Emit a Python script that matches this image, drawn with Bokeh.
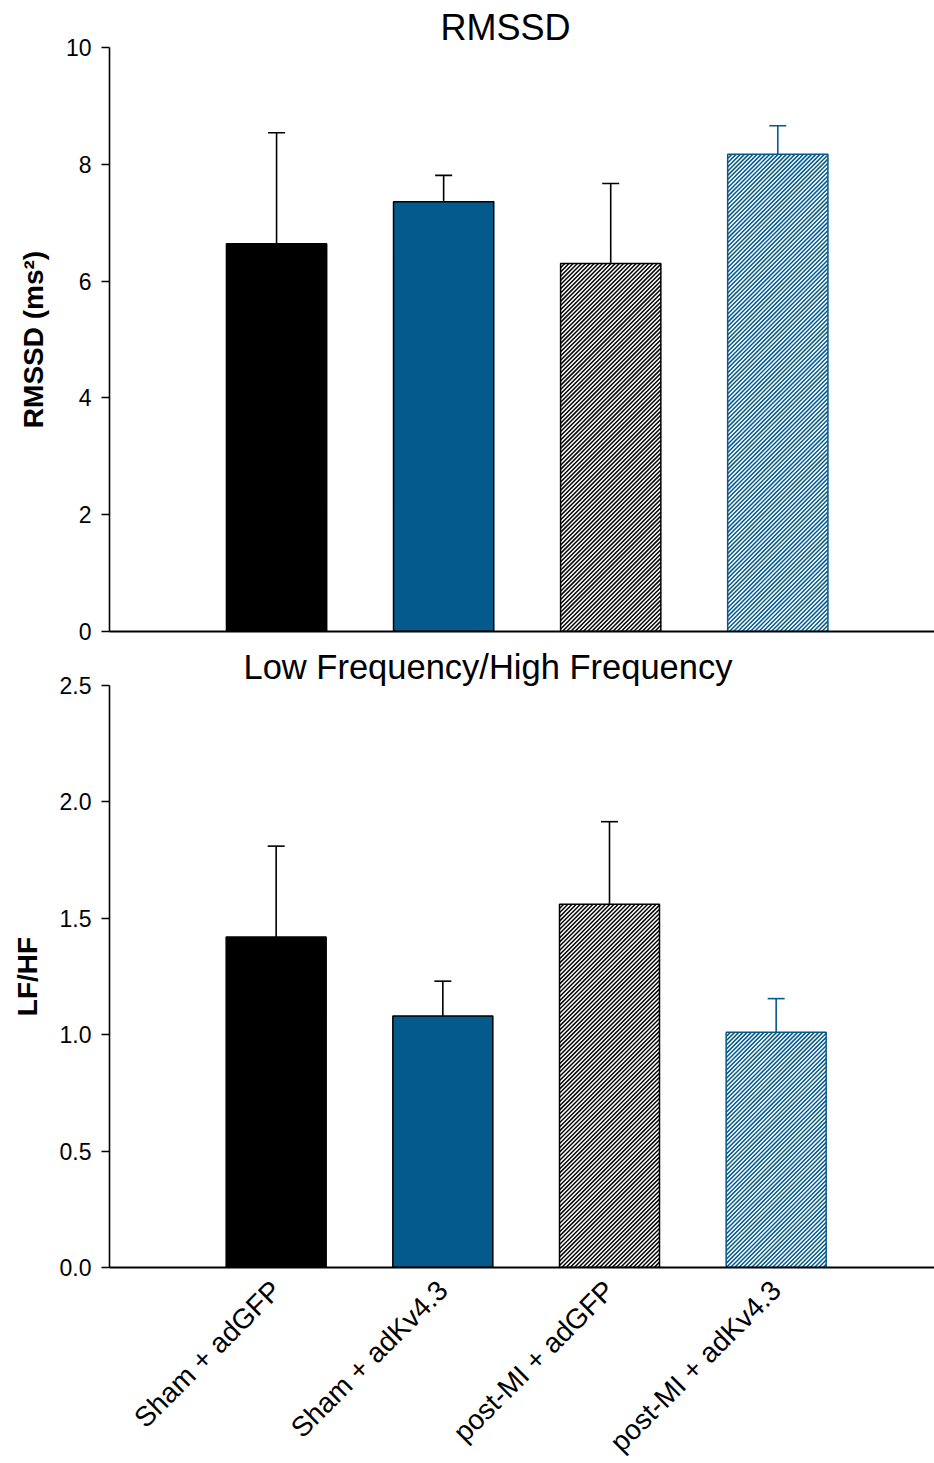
import math
from bokeh.plotting import figure
from bokeh.layouts import column
from bokeh.models import ColumnDataSource, FixedTicker, Title, NumeralTickFormatter
from bokeh.embed import file_html
from bokeh.resources import INLINE

# ---- data ----
categories = ["Sham + adGFP", "Sham + adKv4.3", "post-MI + adGFP", "post-MI + adKv4.3"]
rmssd_mean = [6.64, 7.36, 6.30, 8.17]
rmssd_sem = [1.90, 0.45, 1.37, 0.49]
lfhf_mean = [1.42, 1.08, 1.56, 1.01]
lfhf_sem = [0.39, 0.15, 0.355, 0.145]
rmssd_ticks = [0, 2, 4, 6, 8, 10]
lfhf_ticks = [0, 0.5, 1.0, 1.5, 2.0, 2.5]

# ---- styles ----
BLUE = "#045a8c"
FONT = "Liberation Sans"
fills = ["black", BLUE, "white", "white"]
hatched = [False, False, True, True]
hatch_cols = ["black", "black", "black", BLUE]
edge_cols = ["black", "black", "black", BLUE]
err_cols = ["black", "black", "black", BLUE]
BAR_W = 0.6
X_END = 4.95
HATCH_SPACING = 4.2  # px, horizontal distance between hatch lines

xs = [i + 1 for i in range(len(categories))]


def hatch_lines(xc, top, ppx, ppy):
    """'/' hatch lines clipped to a bar, evenly spaced in screen pixels."""
    W = BAR_W * ppx
    H = top * ppy
    x0 = xc - BAR_W / 2
    out = ([], [], [], [])
    T = -H
    while T < W:
        xs_ = max(T, 0.0)
        xe_ = min(W, T + H)
        if xe_ > xs_:
            out[0].append(x0 + xs_ / ppx)
            out[1].append((xs_ - T) / ppy)
            out[2].append(x0 + xe_ / ppx)
            out[3].append((xe_ - T) / ppy)
        T += HATCH_SPACING
    return out


def panel(means, sems, ticks, title, title_size, ylabel, left, top_border, bottom_border,
          frame_h, title_offset, show_labels, fmt):
    frame_w = 934 - left
    p = figure(frame_width=frame_w, frame_height=frame_h,
               x_range=(0, X_END), y_range=(ticks[0], ticks[-1]),
               output_backend="svg", toolbar_location=None,
               min_border_left=left, min_border_right=0,
               min_border_top=top_border, min_border_bottom=bottom_border)
    p.title = Title(text=title, align="left", offset=title_offset,
                    text_font=FONT, text_font_size=title_size,
                    text_font_style="normal", text_color="black", standoff=0)
    p.outline_line_color = None
    p.grid.visible = False
    p.background_fill_color = "white"
    p.border_fill_color = "white"

    src = ColumnDataSource(dict(
        x=xs, top=means, err_top=[m + s for m, s in zip(means, sems)],
        fill=fills, edge=edge_cols, ecol=err_cols))

    p.segment(x0="x", y0="top", x1="x", y1="err_top", line_color="ecol",
              line_width=1.6, source=src)
    p.scatter(x="x", y="err_top", marker="dash", size=17, line_color="ecol",
              line_width=1.6, source=src)
    p.vbar(x="x", top="top", bottom=0, width=BAR_W, fill_color="fill",
           line_color=None, source=src)

    ppx = frame_w / X_END
    ppy = frame_h / (ticks[-1] - ticks[0])
    for xc, m, h, c in zip(xs, means, hatched, hatch_cols):
        if h:
            a, b, c2, d = hatch_lines(xc, m, ppx, ppy)
            p.segment(x0=a, y0=b, x1=c2, y1=d, line_color=c, line_width=1.5)

    p.vbar(x="x", top="top", bottom=0, width=BAR_W, fill_color=None,
           line_color="edge", line_width=1.5, source=src)

    ya = p.yaxis[0]
    ya.ticker = FixedTicker(ticks=ticks)
    ya.formatter = fmt
    ya.axis_label = ylabel
    ya.axis_label_text_font = FONT
    ya.axis_label_text_font_size = "28px"
    ya.axis_label_text_font_style = "bold"
    ya.axis_label_text_color = "black"
    ya.axis_label_standoff = 14
    ya.major_label_text_font = FONT
    ya.major_label_text_font_size = "23px"
    ya.major_label_text_color = "black"
    ya.major_label_standoff = 10
    ya.major_tick_out = 8
    ya.major_tick_in = 0
    ya.major_tick_line_width = 1.5
    ya.minor_tick_line_color = None
    ya.axis_line_width = 1.6
    ya.axis_line_color = "black"

    xa = p.xaxis[0]
    xa.major_tick_line_color = None
    xa.minor_tick_line_color = None
    xa.axis_line_width = 2
    xa.axis_line_color = "black"
    if show_labels:
        xa.ticker = FixedTicker(ticks=xs)
        xa.major_label_overrides = {x: c for x, c in zip(xs, categories)}
        xa.major_label_orientation = math.pi / 4
        xa.major_label_text_font = FONT
        xa.major_label_text_font_size = "28px"
        xa.major_label_text_color = "black"
        xa.major_label_standoff = 12
    else:
        xa.ticker = FixedTicker(ticks=[])
        xa.major_label_standoff = 0
    return p


p1 = panel(rmssd_mean, rmssd_sem, rmssd_ticks, "RMSSD", "36px", "RMSSD (ms²)",
           107, 47, 13, 584, 331, False, NumeralTickFormatter(format="0"))
p2 = panel(lfhf_mean, lfhf_sem, lfhf_ticks, "Low Frequency/High Frequency", "34.5px", "LF/HF",
           109, 41, 196, 582, 134, True, NumeralTickFormatter(format="0.0"))

layout = column(p1, p2, spacing=0)
open("out.html", "w").write(file_html(layout, INLINE))
